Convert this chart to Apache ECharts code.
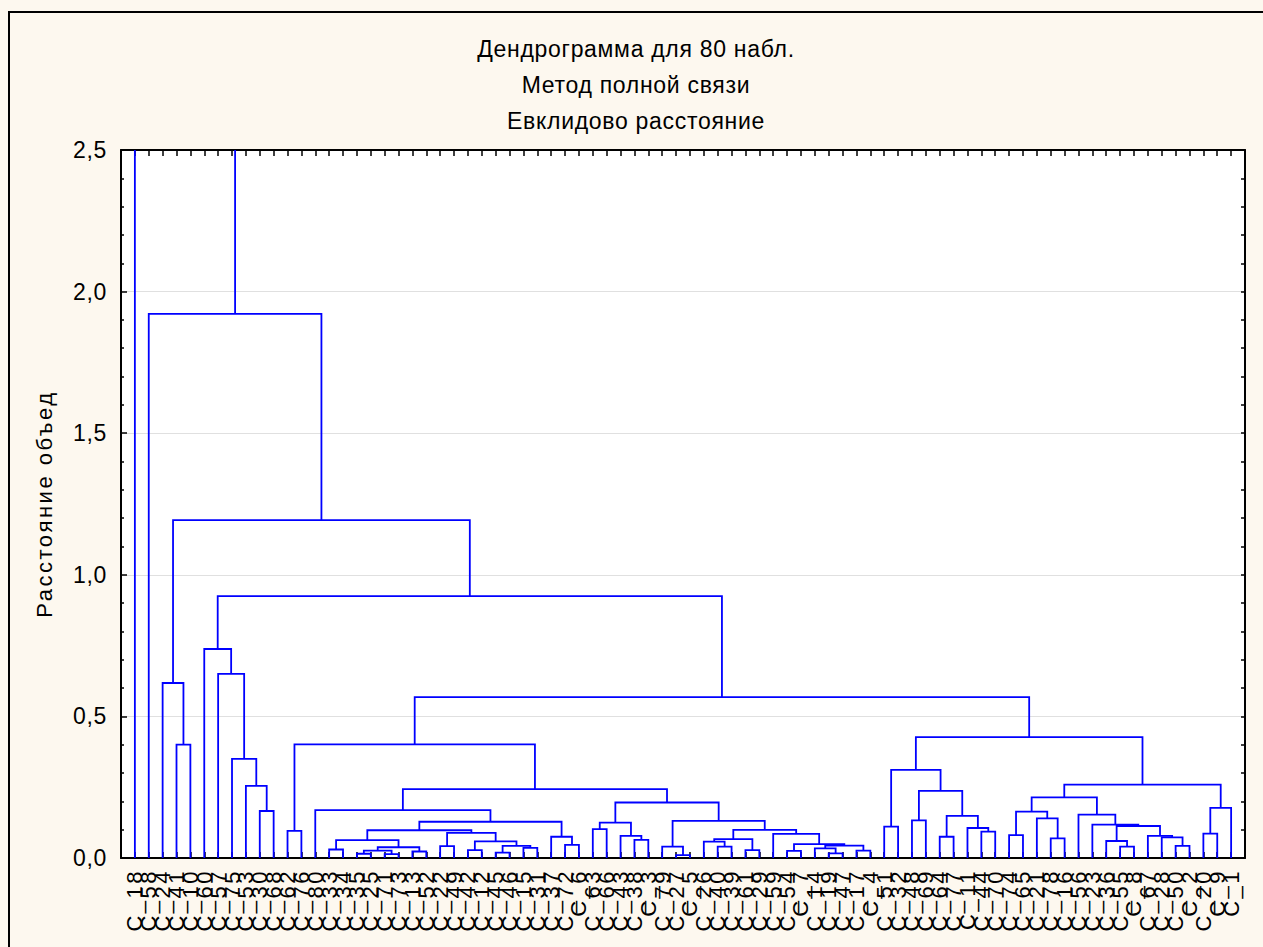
<!DOCTYPE html>
<html>
<head>
<meta charset="utf-8">
<script src="https://cdn.jsdelivr.net/npm/echarts@6/dist/echarts.min.js"></script>
<style>
html,body{margin:0;padding:0;background:#fdf8ef;}
#c{width:1263px;height:947px;}
/* reference text is drawn slightly stretched: emulate with letter spacing per text size */
#c svg text[style*="23px"]{letter-spacing:0.7px;}
#c svg text[style*="22px"]{letter-spacing:2.5px;}
</style>
</head>
<body>
<div id="c"></div>
<script>
// Leaf labels in dendrogram order (positions 1..80)
var leafLabels = [
 'C_18','C_58','C_24','C_41','C_10','C_60','C_57','C_75','C_53','C_30',
 'C_68','C_62','C_76','C_80','C_33','C_34','C_35','C_25','C_71','C_73',
 'C_13','C_52','C_22','C_49','C_42','C_12','C_45','C_46','C_15','C_31',
 'C_37','C_72','C_6','C_63','C_66','C_43','C_38','C_3','C_79','C_27',
 'C_5','C_26','C_40','C_39','C_61','C_29','C_59','C_54','C_7','C_14',
 'C_19','C_47','C_17','C_4','C_51','C_32','C_48','C_69','C_64','C_77',
 'C_11','C_44','C_70','C_74','C_65','C_21','C_78','C_16','C_56','C_23',
 'C_36','C_55','C_8','C_67','C_28','C_50','C_2','C_20','C_9','C_1'
];
// Merge table: left child, right child, linkage distance.
// Positive number = leaf position (1..80); 'mN' = result of merge N.
var mergeLeft = [10,9,8,7,6,4,3,12,17,19,'m8',21,'m10',15,'m13',23,25,27,29,'m17','m16','m15','m14',32,31,'m22',14,34,37,36,'m27',40,39,43,42,45,'m34',48,51,50,53,'m39','m37',47,'m36','m32','m30','m26','m7',
 55,57,59,62,61,'m51','m50','m49',64,67,66,'m57',72,71,76,75,74,'m62',70,69,'m60',78,'m70','m69','m56','m48','m4','m6',2,1];
var mergeRight = [11,'m0','m1','m2','m3',5,'m5',13,18,20,'m9',22,'m11',16,'m12',24,26,28,30,'m18','m19','m20','m21',33,'m23','m24','m25',35,38,'m28','m29',41,'m31',44,'m33',46,'m35',49,52,'m38',54,'m40','m41','m42','m43','m44','m45','m46','m47',
 56,58,60,63,'m52','m53','m54','m55',65,68,'m58','m59',73,'m61',77,'m63','m64','m65','m66','m67','m68',79,80,'m71','m72','m73','m74','m75','m76','m77'];
var mergeHeight = [0.166,0.255,0.35,0.65,0.738,0.40,0.618,0.096,0.015,0.014,0.026,0.023,0.038,0.030,0.063,0.042,0.028,0.019,0.036,0.043,0.059,0.089,0.098,0.046,0.075,0.128,0.169,0.102,0.064,0.078,0.125,0.010,0.040,0.040,0.058,0.028,0.067,0.025,0.016,0.034,0.026,0.044,0.049,0.085,0.099,0.131,0.196,0.243,0.401,
 0.111,0.133,0.075,0.093,0.106,0.149,0.237,0.311,0.081,0.069,0.140,0.164,0.040,0.060,0.043,0.073,0.078,0.113,0.118,0.153,0.214,0.086,0.177,0.259,0.427,0.568,0.925,1.193,1.921,2.9];
var yTicks = [0, 0.5, 1.0, 1.5, 2.0, 2.5];

// Build U-shaped links from the merge table
var nodes = [];
function nodePos(ref) {
  if (typeof ref === 'number') return [ref, 0];
  return nodes[parseInt(ref.slice(1), 10)];
}
var links = [];
for (var i = 0; i < mergeHeight.length; i++) {
  var a = nodePos(mergeLeft[i]), b = nodePos(mergeRight[i]), h = mergeHeight[i];
  links.push([a[0], a[1], b[0], b[1], h]);
  nodes.push([(a[0] + b[0]) / 2, h]);
}

var chart = echarts.init(document.getElementById('c'), null, {renderer: 'svg'});
var FONT = 'Liberation Sans';
chart.setOption({
  backgroundColor: '#fdf8ef',
  animation: false,
  title: {
    text: 'Дендрограмма для 80 набл.\nМетод полной связи\nЕвклидово расстояние',
    left: 636, top: 31, textAlign: 'center', padding: 0,
    textStyle: {fontFamily: FONT, fontSize: 23, fontWeight: 'normal', color: '#000', lineHeight: 36}
  },
  graphic: [{
    type: 'rect', z: -1, silent: true,
    shape: {x: 9, y: 12, width: 1400, height: 1100},
    style: {fill: 'transparent', stroke: '#000', lineWidth: 2}
  }],
  grid: {left: 121, right: 18, top: 150, bottom: 89, show: true, backgroundColor: '#ffffff', borderWidth: 0},
  xAxis: [{
    type: 'value', min: 0, max: 81, interval: 1, position: 'bottom',
    axisLine: {show: true, onZero: false, lineStyle: {color: '#000', width: 2}},
    axisTick: {show: true, inside: true, length: 6, lineStyle: {color: '#000', width: 1.5}},
    splitLine: {show: false},
    axisLabel: {
      show: true, rotate: 90, margin: 11, color: '#000', fontFamily: FONT, fontSize: 22,
      formatter: function (v) { return (v >= 1 && v <= leafLabels.length) ? leafLabels[v - 1] : ''; }
    }
  }, {
    type: 'value', min: 0, max: 81, interval: 1, position: 'top',
    axisLine: {show: true, onZero: false, lineStyle: {color: '#000', width: 2}},
    axisTick: {show: true, inside: true, length: 6, lineStyle: {color: '#000', width: 1.5}},
    splitLine: {show: false}, axisLabel: {show: false}
  }],
  yAxis: [{
    type: 'value', min: yTicks[0], max: yTicks[yTicks.length - 1], interval: 0.5, position: 'left',
    name: 'Расстояние объед', nameLocation: 'middle', nameGap: 66,
    nameTextStyle: {fontFamily: FONT, fontSize: 22, color: '#000'},
    axisLine: {show: true, onZero: false, lineStyle: {color: '#000', width: 2}},
    axisTick: {show: true, inside: true, length: 6, lineStyle: {color: '#000', width: 1.5}},
    minorTick: {show: true, splitNumber: 5, length: 3, lineStyle: {color: '#000', width: 1.5}},
    splitLine: {show: true, lineStyle: {color: '#e0e0e0', width: 1}},
    axisLabel: {
      margin: 14, color: '#000', fontFamily: FONT, fontSize: 23,
      formatter: function (v) { return v.toFixed(1).replace('.', ','); }
    }
  }, {
    type: 'value', min: 0, max: 2.5, interval: 0.1, position: 'right',
    axisLine: {show: true, onZero: false, lineStyle: {color: '#000', width: 2}},
    axisTick: {show: true, inside: true, length: 4, lineStyle: {color: '#000', width: 1.5}},
    splitLine: {show: false}, axisLabel: {show: false}
  }],
  series: [{
    type: 'custom', xAxisIndex: 0, yAxisIndex: 0, clip: true,
    encode: {x: [0, 2], y: [1, 3, 4]},
    data: links,
    renderItem: function (params, api) {
      var p0 = api.coord([api.value(0), api.value(1)]);
      var p1 = api.coord([api.value(0), api.value(4)]);
      var p2 = api.coord([api.value(2), api.value(4)]);
      var p3 = api.coord([api.value(2), api.value(3)]);
      return {type: 'polyline', shape: {points: [p0, p1, p2, p3]},
        style: {stroke: '#0000ff', lineWidth: 1.8, fill: null}};
    }
  }]
});
</script>
</body>
</html>
